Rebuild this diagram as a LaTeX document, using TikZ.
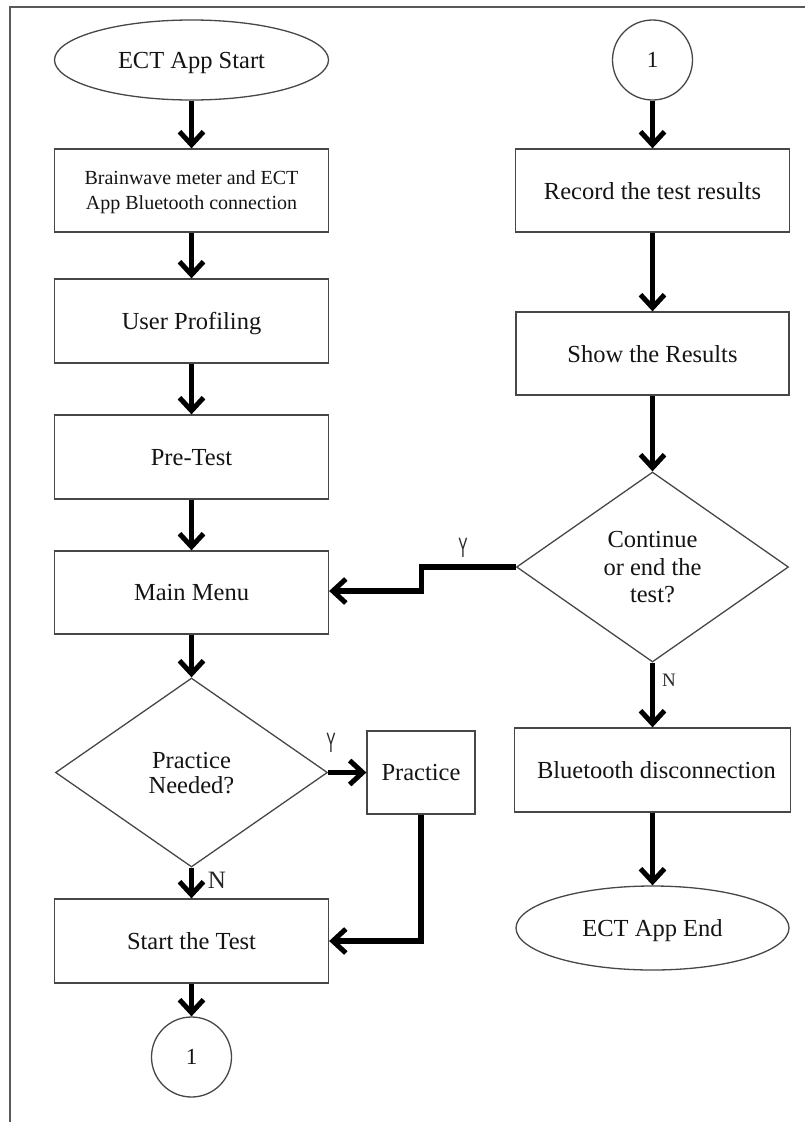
\documentclass[tikz,border=0pt]{standalone}
\usepackage{fontspec}
\setmainfont{Liberation Serif}
\newfontfamily\ylabfont{Liberation Sans}
\usetikzlibrary{arrows.meta,shapes.geometric}
\begin{document}
\begin{tikzpicture}[x=1pt,y=-1pt,
  shp/.style={draw=black!72, line width=1.3pt, text=black!92, align=center, inner sep=0pt, text depth=0pt},
  box/.style={shp, rectangle, minimum width=274pt, minimum height=83pt, font=\fontsize{24.5}{27.5}\selectfont},
  term/.style={shp, ellipse, minimum width=274pt, minimum height=80pt, font=\fontsize{24.5}{27.5}\selectfont},
  dec/.style={shp, diamond, aspect=1.43, minimum width=272pt, minimum height=190pt},
  conn/.style={shp, circle, minimum size=80pt, font=\fontsize{23}{23}\selectfont},
  arr/.style={line width=5.5pt, line join=miter, -{Straight Barb[length=13pt, width=24pt, line width=5pt]}},
  ylab/.style={font=\ylabfont\fontsize{28}{28}\selectfont, text=black!85, inner sep=0pt},
  nlab/.style={text=black!85, inner sep=0pt}
]
\useasboundingbox (0,0) rectangle (805,1122);
% frame (top and left only)
\draw[black!65, line width=1.6pt] (805,6.7) -- (10,6.7) -- (10,1122);

% left column
\node[term] (start) at (191.5,60) {ECT App Start};
\node[box, font=\fontsize{20}{25}\selectfont] (bw) at (191.5,190.5) {Brainwave meter and ECT\\App Bluetooth connection};
\node[box, minimum height=84pt] (up) at (191.5,321) {User Profiling};
\node[box, minimum height=84pt] (pt) at (191.5,457) {Pre-Test};
\node[box] (mm) at (191.5,592.5) {Main Menu};
\node[dec, font=\fontsize{24.5}{25}\selectfont, minimum height=189pt] (pn) at (191.5,772.5) {Practice\\Needed?};
\node[box, minimum width=108pt] (pr) at (421,772.5) {Practice};
\node[box, minimum height=84pt] (st) at (191.5,941) {Start the Test};
\node[conn] (c1) at (191.5,1057) {1};

% right column
\node[conn] (c2) at (652.5,60) {1};
\node[box] (rec) at (652.5,190.5) {Record the test results};
\node[box, minimum width=273pt] (sr) at (652.5,353.5) {Show the Results};
\node[dec, font=\fontsize{24.5}{27.5}\selectfont] (ce) at (652.5,567) {Continue\\or end the\\test?};
\node[box, minimum width=276pt, minimum height=84pt] (bt) at (652.5,770) {\hspace*{8pt}Bluetooth disconnection};
\node[term, minimum width=273pt, minimum height=84pt] (end) at (652.5,928) {ECT App End};

% connectors
\draw[arr] (start) -- (bw);
\draw[arr] (bw) -- (up);
\draw[arr] (up) -- (pt);
\draw[arr] (pt) -- (mm);
\draw[arr] (mm) -- (pn);
\draw[arr] (pn.east) -- (pr.west);
\draw[arr] (pn.south) -- (st.north);
\draw[arr] (pr.south) |- (st.east);
\draw[arr] (st) -- (c1);

\draw[arr] (c2) -- (rec);
\draw[arr] (rec) -- (sr);
\draw[arr] (sr) -- (ce.north);
\draw[arr] (ce.south) -- (bt.north);
\draw[arr] (bt) -- (end);
\coordinate (yk1) at (421.5,567);
\coordinate (yk2) at (421.5,591);
\draw[arr] (ce.west) -- (yk1) -- (yk2) -- (yk2 -| mm.east);

% labels
\node[ylab] (ly1) at (331,743) {\scalebox{0.5}[1]{Y}};
\node[ylab] (ly2) at (463,548) {\scalebox{0.5}[1]{Y}};
\node[nlab, font=\fontsize{25}{25}\selectfont] (ln1) at (217,880) {N};
\node[nlab, font=\fontsize{19}{19}\selectfont] (ln2) at (669,680) {N};
\end{tikzpicture}
\end{document}
